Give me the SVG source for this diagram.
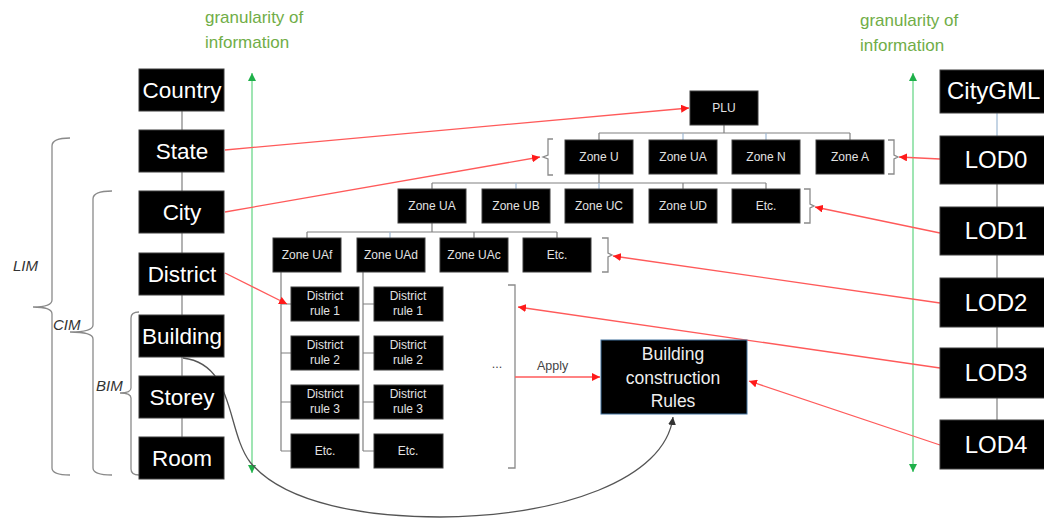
<svg xmlns="http://www.w3.org/2000/svg" width="1044" height="518" viewBox="0 0 1044 518">
<style>
.bx{fill:#000;stroke:#3c3c3c;stroke-width:1}
.big{fill:#fff;font-family:"Liberation Sans",Arial,sans-serif;font-size:22.5px;text-anchor:middle}
.lod{fill:#fff;font-family:"Liberation Sans",Arial,sans-serif;font-size:24px;text-anchor:middle}
.sm{fill:#e2e2e2;font-family:"Liberation Sans",Arial,sans-serif;font-size:12px;text-anchor:middle}
.bcr{fill:#eee;font-family:"Liberation Sans",Arial,sans-serif;font-size:17.5px;text-anchor:middle}
.gr{fill:#70ad47;font-family:"Liberation Sans",Arial,sans-serif;font-size:17px}
.lab{fill:#333;font-family:"Liberation Sans",Arial,sans-serif;font-size:15px;font-style:italic}
.ln{fill:none;stroke:#808080;stroke-width:1.2}
.bl{fill:none;stroke:#9db7d2;stroke-width:1.2}
.br{fill:none;stroke:#8a8a8a;stroke-width:1.3}
.red{fill:none;stroke:#ff5a5a;stroke-width:1.3;marker-end:url(#ra)}
.grn{fill:none;stroke:#7fdc9a;stroke-width:1.5;marker-start:url(#ga0);marker-end:url(#ga)}
</style>
<defs>
<marker id="ra" markerUnits="userSpaceOnUse" markerWidth="9" markerHeight="8" refX="8" refY="4" orient="auto"><path d="M0,0 L8,4 L0,8 z" fill="#ff1a1a"/></marker>
<marker id="ga" markerUnits="userSpaceOnUse" markerWidth="9" markerHeight="8" refX="8" refY="4" orient="auto"><path d="M0,0 L8,4 L0,8 z" fill="#1fb04a"/></marker>
<marker id="ga0" markerUnits="userSpaceOnUse" markerWidth="9" markerHeight="8" refX="0" refY="4" orient="auto"><path d="M8,0 L0,4 L8,8 z" fill="#1fb04a"/></marker>
<marker id="ka" markerUnits="userSpaceOnUse" markerWidth="9" markerHeight="8" refX="8" refY="4" orient="auto"><path d="M0,0 L8,4 L0,8 z" fill="#333"/></marker>
</defs>
<rect width="1044" height="518" fill="#fff"/>

<g id="axis-labels">
<text class="gr" x="205" y="23">granularity of</text>
<text class="gr" x="205" y="48">information</text>
<text class="gr" x="860" y="26">granularity of</text>
<text class="gr" x="860" y="51">information</text>
<text class="lab" x="13" y="271">LIM</text>
<text class="lab" x="53" y="330">CIM</text>
<text class="lab" x="96" y="391">BIM</text>
</g>

<g id="connectors">
<line class="grn" x1="252" y1="73" x2="252" y2="473"/>
<line class="grn" x1="913" y1="73" x2="913" y2="472"/>
<!-- left column links -->
<path class="ln" d="M182,111V130M182,172V191M182,233V253M182,295V315M182,357V376M182,418V437"/>
<!-- right column links -->
<path class="bl" d="M997,113V136"/>
<path class="ln" d="M997,184V207M997,255V278M997,327V348M997,398V420"/>
<!-- tree -->
<path class="ln" d="M724,125V133M599,133H850M599,133V140M850,133V140"/>
<path class="bl" d="M683,133V140M766,133V140"/>
<path class="ln" d="M599,174V183M432,183H766M432,183V189M683,183V189M766,183V189"/>
<path class="bl" d="M516,183V189M599,183V189"/>
<path class="ln" d="M432,223V232M307,232H557M307,232V238M474,232V238M557,232V238"/>
<path class="bl" d="M390,232V238"/>
<path class="ln" d="M281,272V451M281,304H291M281,353H291M281,402H291M281,451H291"/>
<path class="ln" d="M363,272V451M363,304H374M363,353H374M363,402H374M363,451H374"/>
<!-- brackets -->
<path class="br" d="M70,138Q52,138 52,146V300Q52,307 33,307Q52,307 52,314V468Q52,475 70,475"/>
<path class="br" d="M112,191Q93,191 93,199V325Q93,332 70,332Q93,332 93,339V468Q93,475 112,475"/>
<path class="br" d="M139,312Q131,312 131,318V388Q131,393 120,393Q131,393 131,398V469Q131,475 139,475"/>
<path class="br" d="M553,139H548V155L543,157L548,159V175H553"/>
<path class="br" d="M888,140H894V155L898,157L894,159V174H888"/>
<path class="br" d="M804,189H810V204L814,206L810,208V223H804"/>
<path class="br" d="M602,238H608V253L612,255L608,257V272H602"/>
<path class="br" d="M508,285H515V468H508"/>
<!-- red links -->
<line class="red" x1="225" y1="150" x2="689" y2="108"/>
<line class="red" x1="225" y1="212" x2="540" y2="157"/>
<line class="red" x1="225" y1="273" x2="287" y2="304"/>
<line class="red" x1="940" y1="159" x2="899" y2="157"/>
<line class="red" x1="940" y1="233" x2="815" y2="207"/>
<line class="red" x1="940" y1="303" x2="613" y2="256"/>
<line class="red" x1="940" y1="368" x2="518" y2="307"/>
<line class="red" x1="940" y1="445" x2="749" y2="381"/>
<line class="red" x1="515" y1="377" x2="600" y2="377"/>
<path d="M183,358C235,364 226,430 250,462C285,505 370,517 440,517C560,516 665,480 673,417" fill="none" stroke="#555" stroke-width="1.3" marker-end="url(#ka)"/>
<text x="537" y="370" fill="#444" font-family="Liberation Sans,Arial,sans-serif" font-size="12.5">Apply</text>
<text x="497" y="368" fill="#444" font-family="Liberation Sans,Arial,sans-serif" font-size="12.5" text-anchor="middle">...</text>
</g>

<g id="country"><rect class="bx" x="139" y="69" width="85" height="42"/><text class="big" x="182" y="98">Country</text></g>
<g id="state"><rect class="bx" x="139" y="130" width="85" height="42"/><text class="big" x="182" y="159">State</text></g>
<g id="city"><rect class="bx" x="139" y="191" width="85" height="42"/><text class="big" x="182" y="220">City</text></g>
<g id="district"><rect class="bx" x="139" y="253" width="85" height="42"/><text class="big" x="182" y="282">District</text></g>
<g id="building"><rect class="bx" x="139" y="315" width="85" height="42"/><text class="big" x="182" y="344">Building</text></g>
<g id="storey"><rect class="bx" x="139" y="376" width="85" height="42"/><text class="big" x="182" y="405">Storey</text></g>
<g id="room"><rect class="bx" x="139" y="437" width="85" height="42"/><text class="big" x="182" y="466">Room</text></g>

<g id="plu"><rect class="bx" x="690" y="91" width="68" height="34"/><text class="sm" x="724" y="112">PLU</text></g>
<g id="zone-u"><rect class="bx" x="565" y="140" width="68" height="34"/><text class="sm" x="599" y="161">Zone U</text></g>
<g id="zone-ua1"><rect class="bx" x="649" y="140" width="68" height="34"/><text class="sm" x="683" y="161">Zone UA</text></g>
<g id="zone-n"><rect class="bx" x="732" y="140" width="68" height="34"/><text class="sm" x="766" y="161">Zone N</text></g>
<g id="zone-a"><rect class="bx" x="816" y="140" width="68" height="34"/><text class="sm" x="850" y="161">Zone A</text></g>

<g id="zone-ua"><rect class="bx" x="398" y="189" width="68" height="34"/><text class="sm" x="432" y="210">Zone UA</text></g>
<g id="zone-ub"><rect class="bx" x="482" y="189" width="68" height="34"/><text class="sm" x="516" y="210">Zone UB</text></g>
<g id="zone-uc"><rect class="bx" x="565" y="189" width="68" height="34"/><text class="sm" x="599" y="210">Zone UC</text></g>
<g id="zone-ud"><rect class="bx" x="649" y="189" width="68" height="34"/><text class="sm" x="683" y="210">Zone UD</text></g>
<g id="etc-r2"><rect class="bx" x="732" y="189" width="68" height="34"/><text class="sm" x="766" y="210">Etc.</text></g>

<g id="zone-uaf"><rect class="bx" x="273" y="238" width="68" height="34"/><text class="sm" x="307" y="259">Zone UAf</text></g>
<g id="zone-uad"><rect class="bx" x="357" y="238" width="68" height="34"/><text class="sm" x="391" y="259">Zone UAd</text></g>
<g id="zone-uac"><rect class="bx" x="440" y="238" width="68" height="34"/><text class="sm" x="474" y="259">Zone UAc</text></g>
<g id="etc-r3"><rect class="bx" x="523" y="238" width="68" height="34"/><text class="sm" x="557" y="259">Etc.</text></g>

<g id="c1-rule1"><rect class="bx" x="291" y="287" width="68" height="34"/><text class="sm" x="325" y="300">District</text><text class="sm" x="325" y="315">rule 1</text></g>
<g id="c1-rule2"><rect class="bx" x="291" y="336" width="68" height="34"/><text class="sm" x="325" y="349">District</text><text class="sm" x="325" y="364">rule 2</text></g>
<g id="c1-rule3"><rect class="bx" x="291" y="385" width="68" height="34"/><text class="sm" x="325" y="398">District</text><text class="sm" x="325" y="413">rule 3</text></g>
<g id="c1-etc"><rect class="bx" x="291" y="434" width="68" height="34"/><text class="sm" x="325" y="455">Etc.</text></g>
<g id="c2-rule1"><rect class="bx" x="374" y="287" width="69" height="34"/><text class="sm" x="408" y="300">District</text><text class="sm" x="408" y="315">rule 1</text></g>
<g id="c2-rule2"><rect class="bx" x="374" y="336" width="69" height="34"/><text class="sm" x="408" y="349">District</text><text class="sm" x="408" y="364">rule 2</text></g>
<g id="c2-rule3"><rect class="bx" x="374" y="385" width="69" height="34"/><text class="sm" x="408" y="398">District</text><text class="sm" x="408" y="413">rule 3</text></g>
<g id="c2-etc"><rect class="bx" x="374" y="434" width="69" height="34"/><text class="sm" x="408" y="455">Etc.</text></g>

<g id="bcr"><rect x="601" y="340" width="146" height="74" fill="#000" stroke="#41719c" stroke-width="1"/><text class="bcr" x="673" y="360">Building</text><text class="bcr" x="673" y="384">construction</text><text class="bcr" x="673" y="407">Rules</text></g>

<g id="citygml"><rect class="bx" x="940" y="70" width="110" height="43"/><text class="lod" x="947" y="99" text-anchor="start" style="text-anchor:start">CityGML</text></g>
<g id="lod0"><rect class="bx" x="940" y="136" width="110" height="48"/><text class="lod" x="996" y="168">LOD0</text></g>
<g id="lod1"><rect class="bx" x="940" y="207" width="110" height="48"/><text class="lod" x="996" y="239">LOD1</text></g>
<g id="lod2"><rect class="bx" x="940" y="278" width="110" height="49"/><text class="lod" x="996" y="311">LOD2</text></g>
<g id="lod3"><rect class="bx" x="940" y="348" width="110" height="50"/><text class="lod" x="996" y="381">LOD3</text></g>
<g id="lod4"><rect class="bx" x="940" y="420" width="110" height="49"/><text class="lod" x="996" y="453">LOD4</text></g>
</svg>
